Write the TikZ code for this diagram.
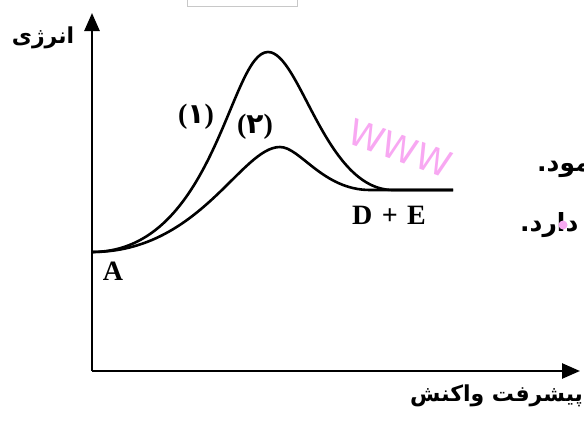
\documentclass[tikz,border=0pt]{standalone}
\usepackage{fontspec}
\setmainfont{Liberation Serif}
\newfontfamily\farsifont[Script=Arabic]{DejaVu Sans}
\newfontfamily\markfont{DejaVu Sans}
\TeXXeTstate=1
\usetikzlibrary{arrows.meta}
\definecolor{markpink}{RGB}{248,168,242}
\definecolor{boxgray}{RGB}{200,200,200}
\newcommand{\fadigit}[1]{{\farsifont #1}}

\begin{document}
\begin{tikzpicture}[
  x=1pt, y=-1pt,
  axis/.style={line width=2.6pt, -{Triangle[length=18pt,width=15pt]}},
  curve/.style={line width=2.6pt},
  latinlabel/.style={font=\fontsize{28}{30}\selectfont\bfseries, inner sep=0pt},
  farsilabel/.style={font=\farsifont\fontsize{22}{26}\selectfont\bfseries, inner sep=0pt},
  edgetext/.style={farsilabel, font=\farsifont\fontsize{25}{28}\selectfont\bfseries, anchor=west},
]
  \useasboundingbox (0,0) rectangle (584,424);

  % axes
  \coordinate (origin) at (92,371);
  \coordinate (ytop) at (92,13);
  \coordinate (xend) at (580,371);
  \draw[axis] (origin) -- (ytop);
  \draw[axis] (origin) -- (xend);
  \node[farsilabel] (energylabel) at (43,38) {\beginR انرژی\endR};
  \node[farsilabel, anchor=west] (progresslabel) at (410,396) {\beginR پیشرفت واکنش\endR};

  % energy profiles
  \coordinate (start) at (92,252);
  \coordinate (peakone) at (268,52);
  \coordinate (peaktwo) at (280,147);
  \coordinate (plateau) at (453,190);
  \draw[curve] (start) .. controls (215,252) and (230,52) .. (peakone)
    .. controls (300,52) and (325,190) .. (393,190) -- (plateau);
  \draw[curve] (start) .. controls (200,252) and (241,147) .. (peaktwo)
    .. controls (300,147) and (323,190) .. (370,190) -- (plateau);

  \node[latinlabel] (reactant) at (113,271) {A};
  \node[latinlabel] (product) at (389,215) {D\,\,+\,\,E};
  \node[latinlabel] (pathone) at (196,117) {(\fadigit{۱})};
  \node[latinlabel] (pathtwo) at (255,127) {(\fadigit{۲})};

  % cut-off text at the right edge
  \node[edgetext] (lineone) at (537,169) {\beginR مود.\endR};
  \node[edgetext] (linetwo) at (520,225) {\beginR دارد.\endR};

  % watermark and frame fragment
  \node[font=\markfont\fontsize{36}{36}\selectfont, text=markpink, rotate=-20] (watermark) at (400,148) {WWW};
  \fill[markpink] (563,225) circle (4.5);
  \draw[boxgray, line width=1pt] (187,-10) rectangle (297,6);
\end{tikzpicture}
\end{document}
